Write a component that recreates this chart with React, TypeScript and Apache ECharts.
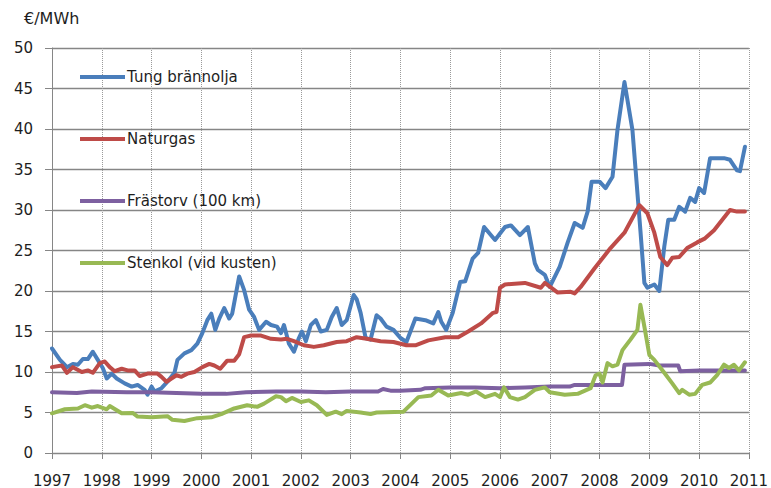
import React, { useEffect, useRef } from "react";
import * as echarts from "echarts";

const seriesNames = ["Tung brännolja", "Naturgas", "Frästorv (100 km)", "Stenkol (vid kusten)"];
const seriesColors = ["#4A7EBB", "#BE4B48", "#7D60A0", "#98B954"];

const tungBrannolja: number[][] = [
  [1997.0, 12.9], [1997.16, 11.5], [1997.3, 10.6], [1997.42, 11.0], [1997.52, 10.9], [1997.62, 11.6],
  [1997.72, 11.6], [1997.82, 12.5], [1997.92, 11.5], [1998.02, 10.5], [1998.1, 9.2], [1998.2, 9.8],
  [1998.3, 9.2], [1998.46, 8.6], [1998.6, 8.2], [1998.72, 8.4], [1998.86, 7.8], [1998.92, 7.2],
  [1999.0, 8.2], [1999.06, 7.6], [1999.2, 8.0], [1999.32, 8.8], [1999.46, 9.9], [1999.52, 11.5],
  [1999.66, 12.3], [1999.8, 12.7], [1999.92, 13.5], [2000.02, 14.8], [2000.12, 16.4], [2000.2, 17.2],
  [2000.28, 15.2], [2000.36, 16.6], [2000.46, 17.9], [2000.56, 16.6], [2000.62, 17.2], [2000.76, 21.8],
  [2000.86, 20.1], [2000.96, 17.7], [2001.06, 16.8], [2001.16, 15.2], [2001.3, 16.2], [2001.4, 15.8],
  [2001.52, 15.6], [2001.6, 14.8], [2001.66, 15.8], [2001.76, 13.5], [2001.86, 12.5], [2001.96, 14.2],
  [2002.02, 15.0], [2002.1, 13.8], [2002.2, 15.8], [2002.3, 16.4], [2002.4, 15.0], [2002.52, 15.2],
  [2002.62, 16.8], [2002.72, 17.9], [2002.82, 15.8], [2002.92, 16.4], [2003.06, 19.5], [2003.12, 19.0],
  [2003.2, 17.3], [2003.3, 14.2], [2003.4, 14.0], [2003.52, 17.0], [2003.6, 16.6], [2003.72, 15.6],
  [2003.86, 15.2], [2004.0, 14.2], [2004.12, 13.7], [2004.3, 16.6], [2004.5, 16.4], [2004.66, 16.0],
  [2004.76, 17.4], [2004.82, 16.2], [2004.92, 15.2], [2005.05, 17.3], [2005.2, 21.1], [2005.3, 21.2],
  [2005.45, 24.0], [2005.56, 24.7], [2005.68, 27.9], [2005.9, 26.3], [2006.1, 27.9], [2006.22, 28.1],
  [2006.4, 26.9], [2006.56, 27.9], [2006.7, 23.4], [2006.76, 22.6], [2006.9, 22.0], [2007.0, 20.5],
  [2007.2, 23.0], [2007.36, 26.0], [2007.5, 28.4], [2007.66, 27.8], [2007.76, 29.8], [2007.84, 33.5],
  [2008.0, 33.5], [2008.12, 32.7], [2008.26, 34.1], [2008.36, 39.9], [2008.5, 45.8], [2008.66, 39.9],
  [2008.82, 27.5], [2008.9, 21.0], [2008.96, 20.4], [2009.1, 20.8], [2009.2, 20.0], [2009.3, 25.5],
  [2009.38, 28.8], [2009.5, 28.8], [2009.6, 30.4], [2009.72, 29.8], [2009.82, 31.5], [2009.92, 31.0],
  [2010.0, 32.7], [2010.1, 32.1], [2010.22, 36.4], [2010.5, 36.4], [2010.62, 36.2], [2010.76, 34.9],
  [2010.82, 34.8], [2010.92, 37.8],
];

const naturgas: number[][] = [
  [1997.0, 10.6], [1997.2, 10.8], [1997.3, 9.9], [1997.42, 10.6], [1997.6, 10.0], [1997.72, 10.2],
  [1997.82, 9.9], [1997.96, 11.1], [1998.06, 11.3], [1998.16, 10.6], [1998.26, 10.1], [1998.4, 10.4],
  [1998.52, 10.2], [1998.66, 10.2], [1998.76, 9.5], [1998.92, 9.8], [1999.12, 9.8], [1999.2, 9.4],
  [1999.3, 8.8], [1999.4, 9.2], [1999.5, 9.6], [1999.6, 9.4], [1999.72, 9.8], [1999.86, 10.0],
  [2000.02, 10.6], [2000.16, 11.0], [2000.26, 10.8], [2000.38, 10.4], [2000.52, 11.4], [2000.66, 11.4],
  [2000.76, 12.2], [2000.86, 14.3], [2001.0, 14.5], [2001.2, 14.5], [2001.4, 14.1], [2001.6, 14.0],
  [2001.72, 14.1], [2001.86, 13.8], [2002.06, 13.3], [2002.26, 13.1], [2002.46, 13.3], [2002.72, 13.7],
  [2002.92, 13.8], [2003.12, 14.3], [2003.32, 14.1], [2003.6, 13.8], [2003.86, 13.7], [2004.12, 13.3],
  [2004.3, 13.3], [2004.56, 13.9], [2004.9, 14.3], [2005.16, 14.3], [2005.36, 15.0], [2005.62, 16.0],
  [2005.86, 17.3], [2005.93, 17.4], [2006.0, 20.4], [2006.1, 20.8], [2006.5, 21.0], [2006.82, 20.4],
  [2006.9, 21.0], [2007.16, 19.8], [2007.42, 19.9], [2007.5, 19.7], [2007.62, 20.5], [2007.9, 22.8],
  [2008.22, 25.3], [2008.5, 27.2], [2008.8, 30.6], [2008.96, 29.6], [2009.1, 27.2], [2009.22, 24.2],
  [2009.36, 23.2], [2009.46, 24.1], [2009.6, 24.2], [2009.76, 25.3], [2009.96, 26.0], [2010.12, 26.5],
  [2010.3, 27.5], [2010.62, 30.0], [2010.76, 29.8], [2010.92, 29.8],
];

const frastorv: number[][] = [
  [1997.0, 7.5], [1997.5, 7.4], [1997.8, 7.6], [1998.5, 7.5], [1999.0, 7.5], [1999.5, 7.4],
  [2000.0, 7.3], [2000.5, 7.3], [2000.9, 7.5], [2001.5, 7.6], [2002.0, 7.6], [2002.5, 7.5],
  [2003.0, 7.6], [2003.55, 7.6], [2003.65, 7.9], [2003.8, 7.7], [2004.0, 7.7], [2004.4, 7.8],
  [2004.5, 8.0], [2005.0, 8.1], [2005.5, 8.1], [2006.0, 8.0], [2006.5, 8.1], [2007.0, 8.2],
  [2007.4, 8.2], [2007.5, 8.4], [2008.0, 8.4], [2008.45, 8.4], [2008.5, 10.9], [2009.0, 11.0],
  [2009.2, 10.8], [2009.58, 10.8], [2009.62, 10.1], [2010.0, 10.2], [2010.5, 10.2], [2010.92, 10.2],
];

const stenkol: number[][] = [
  [1997.0, 4.9], [1997.26, 5.4], [1997.52, 5.5], [1997.66, 5.9], [1997.8, 5.6], [1997.92, 5.8],
  [1998.1, 5.4], [1998.16, 5.8], [1998.4, 4.9], [1998.62, 4.95], [1998.72, 4.5], [1999.0, 4.4],
  [1999.32, 4.55], [1999.42, 4.1], [1999.66, 3.95], [1999.92, 4.3], [2000.2, 4.4], [2000.4, 4.8],
  [2000.66, 5.5], [2000.92, 5.9], [2001.12, 5.7], [2001.26, 6.1], [2001.5, 7.0], [2001.6, 6.9],
  [2001.7, 6.4], [2001.82, 6.8], [2002.0, 6.3], [2002.16, 6.5], [2002.32, 5.9], [2002.52, 4.7],
  [2002.7, 5.1], [2002.82, 4.8], [2002.92, 5.2], [2003.2, 5.0], [2003.4, 4.8], [2003.52, 5.0],
  [2004.06, 5.1], [2004.36, 6.9], [2004.62, 7.1], [2004.76, 7.8], [2004.96, 7.1], [2005.22, 7.4],
  [2005.36, 7.2], [2005.52, 7.6], [2005.7, 6.9], [2005.9, 7.3], [2006.0, 6.9], [2006.08, 8.1],
  [2006.2, 6.9], [2006.36, 6.6], [2006.5, 6.9], [2006.7, 7.8], [2006.9, 8.1], [2007.0, 7.5],
  [2007.3, 7.2], [2007.56, 7.3], [2007.82, 8.0], [2007.92, 9.6], [2008.0, 9.8], [2008.06, 8.7],
  [2008.16, 11.1], [2008.26, 10.7], [2008.36, 10.9], [2008.46, 12.7], [2008.62, 14.0], [2008.76, 15.2],
  [2008.82, 18.3], [2008.9, 15.6], [2009.0, 12.1], [2009.1, 11.5], [2009.3, 9.9], [2009.46, 8.6],
  [2009.6, 7.4], [2009.66, 7.8], [2009.8, 7.2], [2009.92, 7.3], [2010.06, 8.4], [2010.22, 8.7],
  [2010.36, 9.6], [2010.5, 10.9], [2010.6, 10.5], [2010.7, 10.9], [2010.8, 10.2], [2010.92, 11.2],
];

const seriesData = [tungBrannolja, naturgas, frastorv, stenkol];

const FONT = "DejaVu Sans";
const TEXT = "#1e1e1e";
const GRID = "#868686";

export default function App() {
  const ref = useRef<HTMLDivElement>(null);
  useEffect(() => {
    if (!ref.current) return;
    const chart = echarts.init(ref.current, null, { renderer: "svg" });
    chart.setOption({
      animation: false,
      backgroundColor: "#ffffff",
      title: {
        text: "€/MWh",
        left: 24,
        top: 10,
        padding: 0,
        textStyle: { fontFamily: FONT, fontSize: 16, fontWeight: "normal", color: TEXT },
      },
      legend: {
        orient: "vertical",
        left: 80,
        top: 68,
        padding: 0,
        itemGap: 44,
        itemWidth: 45,
        itemHeight: 4,
        icon: "rect",
        data: seriesNames,
        textStyle: { fontFamily: FONT, fontSize: 15, color: TEXT, padding: [0, 0, 0, -3], lineHeight: 18 },
      },
      grid: { left: 52, right: 19, top: 48, bottom: 35, containLabel: false },
      xAxis: {
        type: "value",
        min: 1997,
        max: 2011,
        interval: 1,
        axisLine: { show: true, lineStyle: { color: GRID, width: 1 } },
        axisTick: { show: true, length: 6, lineStyle: { color: GRID } },
        axisLabel: {
          formatter: (v: number) => String(v),
          fontFamily: FONT,
          fontSize: 15,
          color: TEXT,
          margin: 20,
        },
        splitLine: { show: true, lineStyle: { color: "#9a9a9a", type: "dotted", width: 1 } },
      },
      yAxis: {
        type: "value",
        min: 0,
        max: 50,
        interval: 5,
        axisLine: { show: true, lineStyle: { color: GRID, width: 1 } },
        axisTick: { show: true, length: 7, lineStyle: { color: GRID } },
        axisLabel: { fontFamily: FONT, fontSize: 15, color: TEXT, margin: 19 },
        splitLine: { show: true, lineStyle: { color: GRID, width: 1.3 } },
      },
      series: seriesNames.map((name, i) => ({
        name,
        type: "line",
        data: seriesData[i],
        showSymbol: false,
        symbol: "none",
        color: seriesColors[i],
        lineStyle: { color: seriesColors[i], width: 4, cap: "round", join: "round" },
        z: 2 + i,
      })),
    });
    return () => chart.dispose();
  }, []);
  return (
    <div
      ref={ref}
      style={{ position: "fixed", left: 0, top: 0, width: 771, height: 488, background: "#fff" }}
    />
  );
}
